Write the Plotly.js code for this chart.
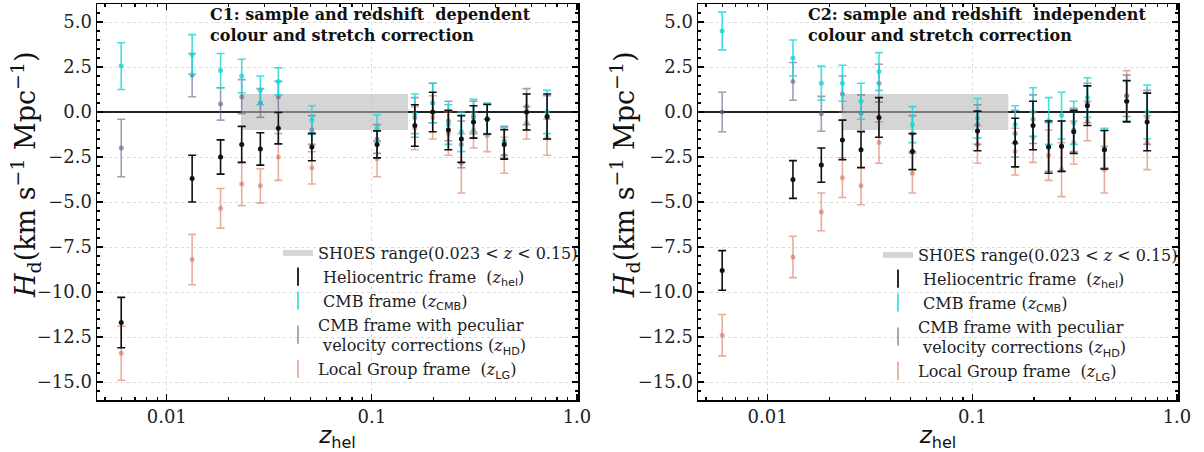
<!DOCTYPE html>
<html><head><meta charset="utf-8">
<script src="https://cdn.plot.ly/plotly-3.0.1.min.js"></script>
<style>html,body{margin:0;padding:0;background:#fff}#chart{width:1204px;height:452px}</style>
</head><body><div id="chart"></div>
<script>
// Redshift bins (z_hel)
const zBins = [0.006, 0.0133, 0.0183, 0.0232, 0.0286, 0.035, 0.051, 0.106, 0.162, 0.198, 0.236, 0.273, 0.313, 0.365, 0.442, 0.568, 0.715];

// SH0ES range
const shoesZ = [0.023, 0.15];
const shoesH = [-1, 1];

// C1 panel
const helC1    = [-11.7, -3.7, -2.5, -1.8, -2.05, -0.9, -1.95, -1.8, -0.75, 0.0, -1.0, -1.5, -0.55, -0.4, -1.8, 0.0, -0.25];
const helErrC1 = [1.4, 1.3, 0.95, 1.0, 0.9, 0.87, 0.76, 0.75, 1.15, 1.1, 1.1, 1.3, 0.9, 0.82, 0.82, 1.0, 1.25];
const cmbC1    = [2.55, 3.2, 2.3, 2.0, 1.2, 1.7, -0.45, -0.9, -0.1, 0.5, -0.7, -1.1, -0.2, -0.35, -1.7, 0.0, 0.0];
const cmbErrC1 = [1.3, 1.1, 0.95, 0.93, 0.8, 0.75, 0.8, 0.75, 1.1, 1.1, 1.1, 1.1, 0.9, 0.85, 0.85, 1.0, 1.2];
const hdC1     = [-2.0, 2.05, 0.45, 0.85, 0.5, 0.85, -1.0, -1.5, -0.3, 0.5, -0.5, -1.8, -0.3, -0.4, -1.6, 0.3, -0.3];
const hdErrC1  = [1.6, 1.2, 0.9, 0.95, 0.8, 0.85, 0.8, 0.8, 1.1, 1.1, 1.1, 1.3, 0.9, 0.85, 0.8, 1.0, 1.2];
const lgC1     = [-13.4, -8.2, -5.35, -4.0, -4.1, -2.5, -3.1, -2.6, -0.9, -0.3, -1.2, -2.85, -1.0, -1.3, -2.4, -0.6, -1.4];
const lgErrC1  = [1.5, 1.4, 1.1, 1.2, 0.95, 1.3, 0.9, 1.0, 1.2, 1.2, 1.2, 1.65, 1.0, 0.9, 1.0, 0.9, 1.0];

// C2 panel
const helC2    = [-8.8, -3.75, -2.95, -1.55, -2.1, -0.3, -2.2, -1.05, -1.7, -0.75, -1.95, -1.9, -1.1, 0.35, -2.1, 0.6, -0.55];
const helErrC2 = [1.1, 1.05, 0.95, 1.1, 1.0, 1.1, 1.0, 1.1, 1.35, 1.35, 1.45, 1.4, 1.2, 1.1, 1.07, 1.15, 1.6];
const cmbC2    = [4.5, 3.0, 1.6, 1.6, 0.6, 2.25, -0.7, -0.35, -0.7, 0.0, -0.5, -0.2, -0.6, 0.8, -2.0, 0.6, 0.0];
const cmbErrC2 = [1.05, 1.0, 0.95, 1.0, 1.0, 1.05, 1.0, 1.1, 1.05, 1.35, 1.3, 1.3, 1.2, 1.1, 1.1, 1.1, 1.5];
const hdC2     = [0.0, 1.7, -0.1, 1.0, -0.05, 1.6, -1.2, -0.7, -1.2, -0.4, -1.95, -1.9, -1.0, 0.5, -2.1, 0.9, -0.3];
const hdErrC2  = [1.1, 1.05, 0.97, 1.0, 1.0, 1.05, 1.0, 1.1, 1.3, 1.35, 1.35, 1.4, 1.2, 1.1, 1.07, 1.15, 1.5];
const lgC2     = [-12.4, -8.05, -5.55, -3.65, -4.1, -1.7, -3.4, -1.8, -2.2, -1.4, -2.4, -3.2, -1.7, -0.5, -3.2, 0.9, -1.7];
const lgErrC2  = [1.15, 1.15, 1.05, 1.1, 1.05, 1.15, 1.1, 1.05, 1.3, 1.4, 1.4, 1.5, 1.2, 1.1, 1.3, 1.4, 1.5];

const xTickVals = [0.01, 0.1, 1];
const xTickText = ['0.01', '0.1', '1.0'];
const panelTitles = [
  'C1: sample and redshift  dependent<br>colour and stretch correction',
  'C2: sample and redshift  independent<br>colour and stretch correction'
];
const yTitle = '<i>H</i><sub>d</sub>(km s<sup>−1</sup> Mpc<sup>−1</sup>)';
const sub = s => '(<i>z</i><span style="font-family:DejaVu Sans"><sub>' + s + '</sub></span>)';
const legendNames = [
  'SH0ES range(0.023 &lt; <i>z</i> &lt; 0.15)',
  ' Heliocentric frame  ' + sub('hel'),
  ' CMB frame ' + sub('CMB'),
  'CMB frame with peculiar<br> velocity corrections ' + sub('HD'),
  'Local Group frame  ' + sub('LG')
];

const colors = {
  hel: '#111111',
  cmb: 'rgba(20,215,215,0.8)',
  hd: 'rgba(95,95,135,0.6)',
  lg: 'rgba(210,105,75,0.55)'
};

const SERIF = 'DejaVu Serif, serif';
const traces = [];
const panels = [
  {xa: 'x', ya: 'y', leg: 'legend', data: [[lgC1, lgErrC1, 'lg'], [hdC1, hdErrC1, 'hd'], [cmbC1, cmbErrC1, 'cmb'], [helC1, helErrC1, 'hel']]},
  {xa: 'x2', ya: 'y2', leg: 'legend2', data: [[lgC2, lgErrC2, 'lg'], [hdC2, hdErrC2, 'hd'], [cmbC2, cmbErrC2, 'cmb'], [helC2, helErrC2, 'hel']]}
];
const legendOrder = ['hel', 'cmb', 'hd', 'lg'];

panels.forEach(p => {
  // SH0ES band
  traces.push({
    type: 'scatter', mode: 'none', xaxis: p.xa, yaxis: p.ya, legend: p.leg,
    x: [shoesZ[0], shoesZ[1], shoesZ[1], shoesZ[0], shoesZ[0]],
    y: [shoesH[0], shoesH[0], shoesH[1], shoesH[1], shoesH[0]],
    fill: 'toself', fillcolor: 'rgba(185,185,185,0.6)',
    name: legendNames[0], legendrank: 1, hoverinfo: 'skip'
  });
  p.data.forEach(([vals, errs, key]) => {
    traces.push({
      type: 'scatter', mode: 'markers', xaxis: p.xa, yaxis: p.ya,
      x: zBins, y: vals,
      error_y: {type: 'data', array: errs, visible: true, color: colors[key], thickness: 1.6, width: 4},
      marker: {color: colors[key], size: 5},
      showlegend: false
    });
  });
  // legend glyphs
  legendOrder.forEach((key, i) => {
    traces.push({
      type: 'scatter', mode: 'markers', xaxis: p.xa, yaxis: p.ya, legend: p.leg,
      x: [null], y: [null],
      marker: {color: colors[key], size: 13, symbol: 'line-ns-open', line: {color: colors[key], width: 1.8}},
      name: legendNames[i + 1], legendrank: i + 2
    });
  });
});

const minorX = [0.005,0.006,0.007,0.008,0.009,0.02,0.03,0.04,0.05,0.06,0.07,0.08,0.09,0.2,0.3,0.4,0.5,0.6,0.7,0.8,0.9];

function xAxis(domain, anchor) {
  return {
    type: 'log', domain: domain, anchor: anchor, range: [-2.34, 0.005],
    tickmode: 'array', tickvals: xTickVals, ticktext: xTickText,
    ticks: 'inside', ticklen: 6, tickwidth: 1.2, tickcolor: '#000',
    showline: true, linecolor: '#000', linewidth: 1.5, mirror: 'ticks',
    showgrid: true, gridcolor: '#dcdcdc', griddash: 'dot', gridwidth: 1,
    minor: {tickmode: 'array', tickvals: minorX, ticks: 'inside', ticklen: 3, tickcolor: '#000', showgrid: false},
    tickfont: {family: SERIF, size: 18, color: '#222'},
    title: {text: '<i>z</i><sub>hel</sub>', font: {family: 'DejaVu Sans, sans-serif', size: 23, color: '#111'}, standoff: 4},
    automargin: false, zeroline: false
  };
}
function yAxis(domain, anchor) {
  return {
    domain: domain, anchor: anchor, range: [-16, 6],
    tick0: 0, dtick: 2.5, tickformat: '.1f',
    ticks: 'inside', ticklen: 6, tickwidth: 1.2, tickcolor: '#000',
    showline: true, linecolor: '#000', linewidth: 1.5, mirror: 'ticks',
    showgrid: true, gridcolor: '#dcdcdc', griddash: 'dot', gridwidth: 1,
    minor: {dtick: 0.5, ticks: 'inside', ticklen: 3, tickcolor: '#000', showgrid: false},
    zeroline: true, zerolinecolor: '#222', zerolinewidth: 1.6,
    tickfont: {family: SERIF, size: 18, color: '#222'},
    automargin: false
  };
}

const W = 1204, H = 452;
const yDom = [(H - 400) / H, (H - 4) / H];
const legFont = {family: SERIF, size: 16, color: '#222'};
const yTitleFont = {family: SERIF, size: 27, color: '#111'};
const layout = {
  width: W, height: H,
  margin: {l: 0, r: 0, t: 0, b: 0},
  paper_bgcolor: '#fff', plot_bgcolor: '#fff',
  showlegend: true,
  xaxis: xAxis([97 / W, 578 / W], 'y'),
  yaxis: yAxis(yDom, 'x'),
  xaxis2: xAxis([698 / W, 1178 / W], 'y2'),
  yaxis2: yAxis(yDom, 'x2'),
  legend: {x: 278 / W, y: (H - 236) / H, xanchor: 'left', yanchor: 'top', bgcolor: 'rgba(0,0,0,0)',
           font: legFont, itemwidth: 30, tracegroupgap: 0},
  legend2: {x: 878 / W, y: (H - 238) / H, xanchor: 'left', yanchor: 'top', bgcolor: 'rgba(0,0,0,0)',
            font: legFont, itemwidth: 30, tracegroupgap: 0},
  annotations: [
    {xref: 'x domain', yref: 'y domain', x: 0.231, y: 1.0, yshift: 1, xanchor: 'left', yanchor: 'top', align: 'left',
     showarrow: false, text: '<b>' + panelTitles[0] + '</b>', font: {family: SERIF, size: 16, color: '#111'}},
    {xref: 'x2 domain', yref: 'y2 domain', x: 0.226, y: 1.0, yshift: 1, xanchor: 'left', yanchor: 'top', align: 'left',
     showarrow: false, text: '<b>' + panelTitles[1] + '</b>', font: {family: SERIF, size: 16, color: '#111'}},
    {xref: 'paper', yref: 'paper', x: 25 / W, y: (H - 175) / H, xanchor: 'center', yanchor: 'middle',
     textangle: -90, showarrow: false, text: yTitle, font: yTitleFont},
    {xref: 'paper', yref: 'paper', x: 624 / W, y: (H - 175) / H, xanchor: 'center', yanchor: 'middle',
     textangle: -90, showarrow: false, text: yTitle, font: yTitleFont}
  ]
};

Plotly.newPlot('chart', traces, layout, {displayModeBar: false, staticPlot: true});
</script>
</body></html>
